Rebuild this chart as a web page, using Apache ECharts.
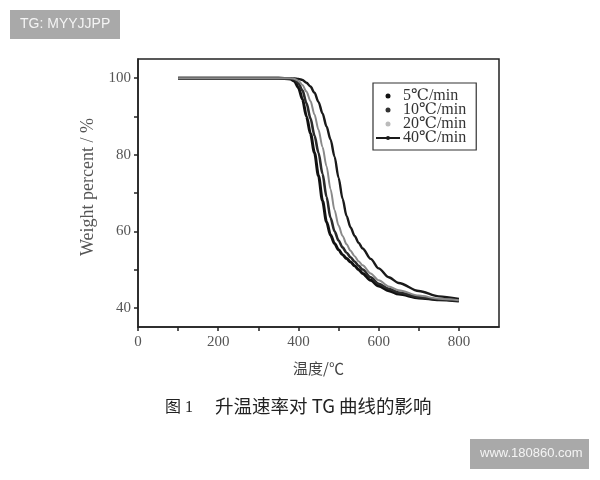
<!DOCTYPE html>
<html>
<head>
<meta charset="utf-8">
<script src="https://cdn.jsdelivr.net/npm/echarts@6/dist/echarts.min.js"></script>
<style>html,body{margin:0;padding:0;background:#fff}#c{width:600px;height:480px}</style>
</head>
<body>
<div id="c"></div>
<script>
const seriesNames = ['5℃/min', '10℃/min', '20℃/min', '40℃/min'];
const temps = [100, 200, 300, 350, 380, 390, 400, 410, 420, 430, 440, 450, 460, 470, 480, 490, 500, 510, 520, 530, 540, 550, 560, 580, 600, 625, 650, 700, 750, 800];
const w5  = [100, 100, 100, 100, 99.8, 99.2, 97.5, 94.5, 90, 85.5, 80.5, 74.5, 68, 62.5, 59, 56.8, 55.2, 53.9, 52.9, 52, 51, 50, 49, 47.2, 45.7, 44.5, 43.6, 42.6, 42.1, 41.8];
const w10 = [100, 100, 100, 100, 99.9, 99.6, 98.6, 96.8, 93.5, 89.5, 85, 80.5, 75, 69, 63.5, 60, 57.6, 55.8, 54.4, 53.2, 52.1, 51, 50, 48, 46.3, 45, 44, 42.8, 42.2, 41.9];
const w20 = [100, 100, 100, 100, 100, 99.8, 99.3, 98.2, 96.5, 94, 90.5, 86.5, 82, 77, 71, 65.5, 61.5, 58.8, 56.6, 54.9, 53.5, 52.2, 51.1, 49, 47.2, 45.6, 44.6, 43.2, 42.4, 42];
const w40 = [100, 100, 100, 100, 100, 99.9, 99.8, 99.5, 98.8, 97.8, 96.2, 93.8, 90.8, 87.4, 84, 79.5, 74, 68.5, 64, 61, 58.8, 57, 55.5, 52.8, 50.3, 48, 46.5, 44.4, 43, 42.3];
const xTickValues = [0, 100, 200, 300, 400, 500, 600, 700, 800];
const xLabelValues = [0, 200, 400, 600, 800];
const yTickValues = [40, 50, 60, 70, 80, 90, 100];
const yLabelValues = [40, 60, 80, 100];
const xName = '温度/℃';
const yName = 'Weight percent / %';
const caption1 = '图 1';
const caption2 = '升温速率对 TG 曲线的影响';
const wm1 = 'TG: MYYJJPP';
const wm2 = 'www.180860.com';

const weights = [w5, w10, w20, w40];
const colors = ['#111', '#2a2a2a', '#8a8a8a', '#1a1a1a'];
const widths = [3, 2.6, 2, 2.4];
const serif = "'Liberation Serif', 'DejaVu Serif', serif";

const chart = echarts.init(document.getElementById('c'), null, {renderer: 'canvas'});
chart.setOption({
  backgroundColor: '#fff',
  animation: false,
  grid: {left: 138, top: 59, right: 101, bottom: 153, show: true, borderColor: '#222', borderWidth: 1.5, backgroundColor: 'transparent'},
  xAxis: {
    type: 'value', min: 0, max: 900,
    name: xName, nameLocation: 'middle', nameGap: 34,
    nameTextStyle: {fontFamily: "'Noto Sans CJK SC', sans-serif", fontSize: 15, color: '#444'},
    axisLine: {show: true, lineStyle: {color: '#222', width: 1.5}},
    axisTick: {show: true, customValues: xTickValues, length: 4, lineStyle: {color: '#222', width: 1.5}},
    axisLabel: {customValues: xLabelValues, margin: 8, fontFamily: serif, fontSize: 15, color: '#555'},
    splitLine: {show: false}
  },
  yAxis: {
    type: 'value', min: 35, max: 105,
    name: yName, nameLocation: 'middle', nameGap: 36, nameRotate: 90,
    nameTextStyle: {fontFamily: serif, fontSize: 18, color: '#555', padding: [0, 0, 0, 12]},
    axisLine: {show: true, lineStyle: {color: '#222', width: 1.5}},
    axisTick: {show: true, customValues: yTickValues, length: 4, lineStyle: {color: '#222', width: 1.5}},
    axisLabel: {customValues: yLabelValues, margin: 7, fontFamily: serif, fontSize: 15, color: '#555'},
    splitLine: {show: false}
  },
  legend: {
    orient: 'vertical', left: 373, top: 83,
    padding: [5, 10, 4, 2], itemGap: -2,
    itemWidth: 24, itemHeight: 5,
    borderColor: '#333', borderWidth: 1.2,
    backgroundColor: '#fff',
    textStyle: {fontFamily: serif, fontSize: 16, color: '#333', padding: [0, 0, 0, -2]},
    data: [
      {name: seriesNames[0], icon: 'circle', itemStyle: {color: '#111'}},
      {name: seriesNames[1], icon: 'circle', itemStyle: {color: '#333'}},
      {name: seriesNames[2], icon: 'circle', itemStyle: {color: '#bbb'}},
      {name: seriesNames[3]}
    ]
  },
  series: seriesNames.map((n, i) => ({
    name: n, type: 'line',
    data: temps.map((t, j) => [t, weights[i][j]]),
    smooth: 0.3, smoothMonotone: 'x',
    symbol: 'circle', symbolSize: 4, showSymbol: false,
    itemStyle: {color: colors[i]},
    lineStyle: {color: colors[i], width: widths[i]},
    z: i === 2 ? 5 : 3
  })),
  graphic: [
    {type: 'rect', left: 10, top: 10, shape: {width: 110, height: 29}, style: {fill: '#a9a9a9'}},
    {type: 'text', left: 20, top: 17, style: {text: wm1, fill: '#f4f4f4', font: "14px 'Liberation Sans', sans-serif"}},
    {type: 'rect', left: 470, top: 439, shape: {width: 119, height: 30}, style: {fill: '#a9a9a9'}},
    {type: 'text', left: 480, top: 447, style: {text: wm2, fill: '#f4f4f4', font: "13px 'Liberation Sans', sans-serif"}},
    {type: 'text', left: 165, top: 400, style: {text: caption1, fill: '#222', font: "16px 'Liberation Serif', 'Noto Sans CJK SC'"}},
    {type: 'text', left: 215, top: 397, style: {text: caption2, fill: '#222', font: "18.5px 'Noto Sans CJK SC', 'Liberation Serif'"}}
  ]
});
</script>
</body>
</html>
